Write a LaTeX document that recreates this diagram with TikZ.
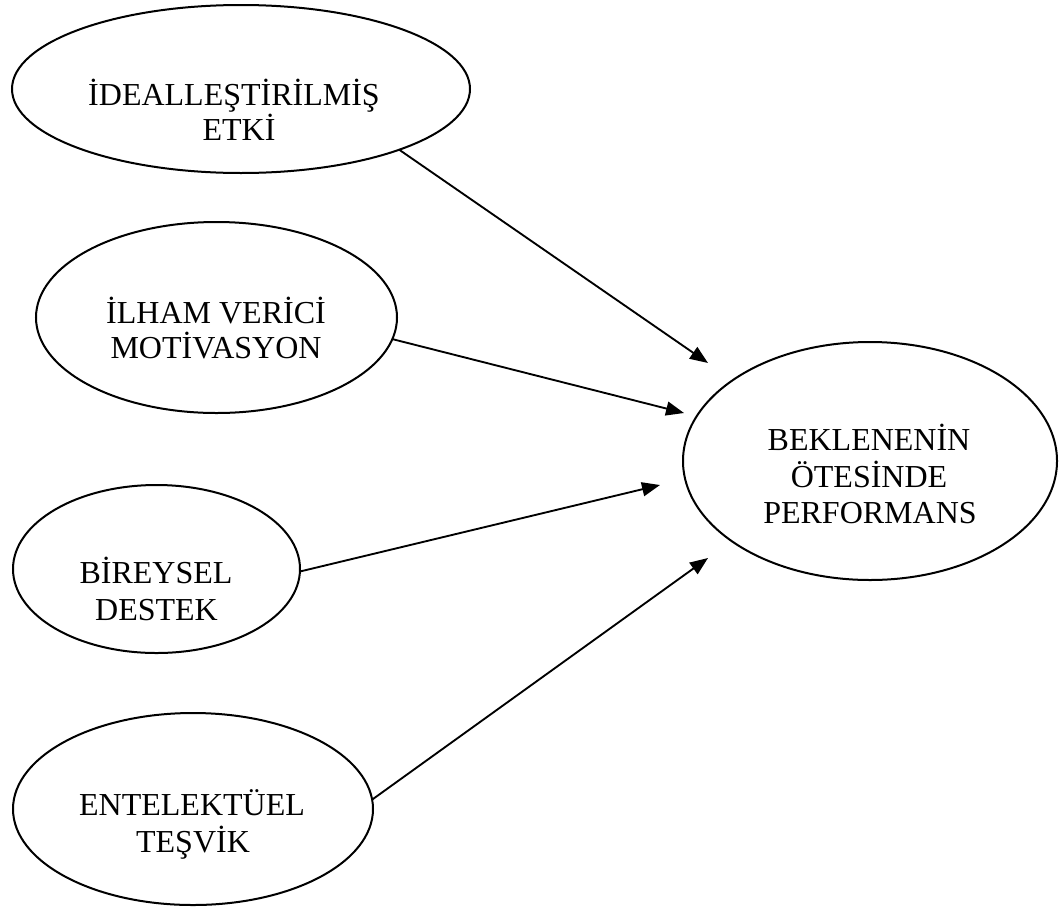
\documentclass[tikz,border=0pt]{standalone}
\usepackage{fontspec}
\setmainfont{Liberation Serif}
\usetikzlibrary{arrows.meta,shapes.geometric}
\begin{document}
\begin{tikzpicture}[x=0.75pt,y=-0.75pt,
  oval/.style={draw,ellipse,line width=1.5pt,inner sep=0pt,outer sep=0pt},
  lbl/.style={anchor=base,inner sep=0pt,font=\fontsize{24}{27.4}\selectfont},
  conn/.style={line width=1.4pt,-{Triangle[length=13.5pt,width=10.5pt]}}]
\useasboundingbox (0,0) rectangle (1062,907);
\node[oval,minimum width=343.5pt,minimum height=126pt] (e1) at (241,89) {};
\node[oval,minimum width=270.75pt,minimum height=143.25pt] (e2) at (216.5,317.5) {};
\node[oval,minimum width=215.25pt,minimum height=126pt] (e3) at (156.5,569) {};
\node[oval,minimum width=270pt,minimum height=144pt] (e4) at (193,809) {};
\node[oval,minimum width=280.5pt,minimum height=178.5pt] (e5) at (870,461) {};
\node[lbl] (t1a) at (234,105) {İDEALLEŞTİRİLMİŞ};
\node[lbl] (t1b) at (239,140) {ETKİ};
\node[lbl] (t2a) at (216,323) {İLHAM VERİCİ};
\node[lbl] (t2b) at (216,358) {MOTİVASYON};
\node[lbl] (t3a) at (156,583) {BİREYSEL};
\node[lbl] (t3b) at (156.5,620) {DESTEK};
\node[lbl] (t4a) at (192,815) {ENTELEKTÜEL};
\node[lbl] (t4b) at (193,852) {TEŞVİK};
\node[lbl] (t5a) at (869,450) {BEKLENENİN};
\node[lbl] (t5b) at (869,487) {ÖTESİNDE};
\node[lbl] (t5c) at (870,523) {PERFORMANS};
\coordinate (a1) at (708,363);
\coordinate (a2) at (684,413);
\coordinate (a3) at (660,485);
\coordinate (a4) at (708,558);
\draw[conn] (e1.-21.4) -- (a1);
\draw[conn] (e2.-7.8) -- (a2);
\draw[conn] (e3.-1.2) -- (a3);
\draw[conn] (e4.3.8) -- (a4);
\end{tikzpicture}
\end{document}
